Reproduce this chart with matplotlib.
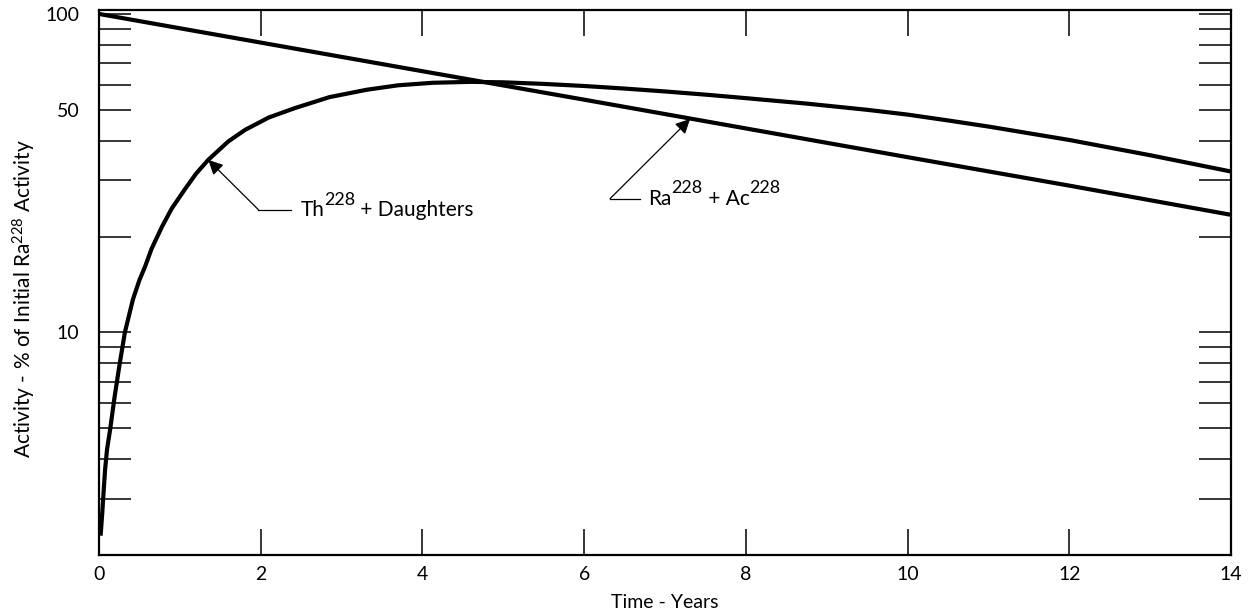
import matplotlib.pyplot as plt
from matplotlib.ticker import NullFormatter

plt.rcParams['font.family'] = ['Lato', 'DejaVu Sans']
plt.rcParams['mathtext.default'] = 'regular'

# Ra228 + Ac228 line
ra_years = [0, 2, 4, 6, 8, 10, 12, 14]
ra_activity = [100, 81.3, 66.1, 53.8, 43.7, 35.5, 28.9, 23.4]

# Th228 + daughters growth curve
th_years = [0.02, 0.04, 0.055, 0.075, 0.10, 0.14, 0.19, 0.25, 0.32, 0.42,
            0.50, 0.57, 0.65, 0.78, 0.90, 1.06, 1.20, 1.35, 1.60, 1.81,
            2.10, 2.42, 2.85, 3.31, 3.70, 4.13, 4.60, 5.00, 5.50, 6.00,
            6.50, 7.00, 7.50, 8.00, 8.75, 9.50, 10.0, 10.5, 11.0, 11.5,
            12.0, 13.0, 14.0]
th_activity = [2.3, 2.7, 3.1, 3.7, 4.3, 5.0, 6.2, 7.8, 10.0, 12.7,
               14.6, 16.1, 18.3, 21.5, 24.5, 28.1, 31.5, 34.8, 39.8, 43.3,
               47.3, 50.6, 54.8, 57.8, 59.7, 60.8, 61.2, 61.0, 60.3, 59.4,
               58.3, 57.1, 55.8, 54.4, 52.3, 50.0, 48.3, 46.3, 44.3, 42.2,
               40.2, 36.0, 32.0]

x_ticks = [0, 2, 4, 6, 8, 10, 12, 14]
y_major = [10, 50, 100]
y_minor = [3, 4, 5, 6, 7, 8, 9, 20, 30, 40, 60, 70, 80, 90]


def label_with_sup(ax, x, y, pieces, size=15, sup_size=13, rise=9):
    # pieces: list of (text, is_superscript)
    prev = ax.text(x, y, pieces[0][0], fontsize=size, va='baseline', ha='left')
    level = 0
    for txt, sup in pieces[1:]:
        new_level = rise if sup else 0
        prev = ax.annotate(txt, xy=(1, 0), xycoords=prev,
                           xytext=(0, new_level - level), textcoords='offset points',
                           fontsize=sup_size if sup else size, va='bottom', ha='left')
        level = new_level


fig = plt.figure(figsize=(12.53, 6.16), dpi=100)
ax = fig.add_axes([0.079, 0.099, 0.9035, 0.885])

ax.plot(ra_years, ra_activity, color='black', lw=3, solid_capstyle='butt')
ax.plot(th_years, th_activity, color='black', lw=3, solid_capstyle='butt')

ax.set_yscale('log')
ax.set_xlim(0, 14)
ax.set_ylim(2, 103)

ax.set_xticks(x_ticks)
ax.set_xticklabels([str(v) for v in x_ticks])
ax.set_yticks(y_major)
ax.set_yticklabels([str(v) for v in y_major])
ax.set_yticks(y_minor, minor=True)
ax.yaxis.set_minor_formatter(NullFormatter())

ax.tick_params(axis='x', which='both', direction='in', length=19, width=1.1,
               top=True, bottom=True, labelsize=14, pad=8)
ax.tick_params(axis='y', which='both', direction='in', length=23, width=1.1,
               left=True, right=True, labelsize=14, pad=14)
for s in ax.spines.values():
    s.set_linewidth(1.6)

ax.set_xlabel('Time - Years', fontsize=14, labelpad=8)
ax.set_ylabel('Activity - % of Initial Ra$^{228}$ Activity', fontsize=15)
ax.yaxis.set_label_coords(-0.054, 0.47)

# leader lines and labels
ax.annotate('', xy=(1.352, 34.8), xytext=(1.97, 24.3),
            arrowprops=dict(arrowstyle='-|>', color='black', lw=0.9,
                            mutation_scale=22, shrinkA=0, shrinkB=0))
ax.plot([1.97, 2.38], [24.3, 24.3], color='black', lw=0.9)
label_with_sup(ax, 2.49, 23.2, [('Th', False), ('228', True), (' + Daughters', False)])

ax.annotate('', xy=(7.31, 46.8), xytext=(6.32, 26.3),
            arrowprops=dict(arrowstyle='-|>', color='black', lw=0.9,
                            mutation_scale=22, shrinkA=0, shrinkB=0))
ax.plot([6.32, 6.69], [26.3, 26.3], color='black', lw=0.9)
label_with_sup(ax, 6.79, 25.2, [('Ra', False), ('228', True), (' + Ac', False), ('228', True)])

fig.savefig('out.png', dpi=100)
